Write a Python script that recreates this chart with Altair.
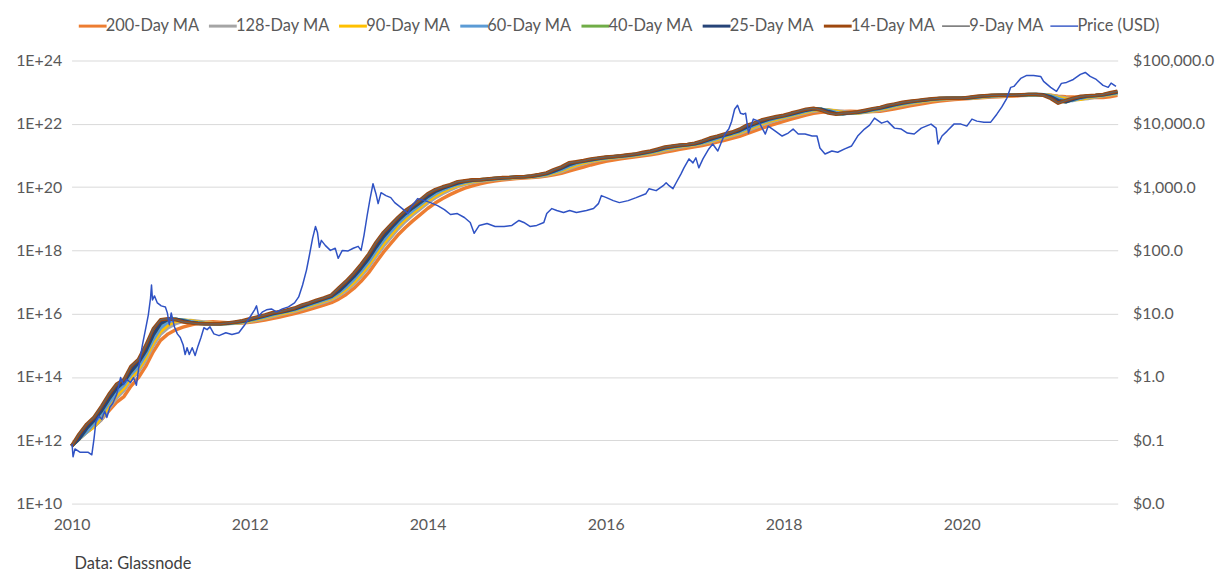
import altair as alt
import pandas as pd

# ---------------- data ----------------
# Hash rate (left axis, log10 units), one reading per month, mid-month, starting July 2010
hash_first_month = "2010-07-01"
hash_log10 = [
    11.82, 12.20, 12.51, 12.73, 13.08, 13.45, 13.77, 13.92, 14.33, 14.55,
    14.99, 15.52, 15.81, 15.84, 15.81, 15.74, 15.71, 15.68, 15.68, 15.68,
    15.68, 15.71, 15.74, 15.78, 15.84, 15.90, 15.96, 16.03, 16.06, 16.12,
    16.18, 16.28, 16.34, 16.43, 16.50, 16.59, 16.81, 17.03, 17.28, 17.56,
    17.88, 18.25, 18.57, 18.82, 19.04, 19.26, 19.42, 19.60, 19.79, 19.92,
    20.01, 20.08, 20.17, 20.20, 20.23, 20.23, 20.26, 20.28, 20.30, 20.30,
    20.33, 20.33, 20.36, 20.40, 20.45, 20.55, 20.64, 20.77, 20.80, 20.84,
    20.89, 20.92, 20.95, 20.97, 20.99, 21.02, 21.05, 21.10, 21.14, 21.21,
    21.27, 21.30, 21.33, 21.35, 21.39, 21.46, 21.55, 21.61, 21.68, 21.74,
    21.83, 21.96, 22.02, 22.12, 22.18, 22.23, 22.27, 22.34, 22.40, 22.46,
    22.49, 22.43, 22.34, 22.30, 22.34, 22.35, 22.38, 22.43, 22.48, 22.52,
    22.59, 22.63, 22.68, 22.71, 22.74, 22.77, 22.79, 22.81, 22.81, 22.81,
    22.81, 22.84, 22.87, 22.89, 22.90, 22.90, 22.90, 22.90, 22.92, 22.93,
    22.93, 22.90, 22.80, 22.65, 22.74, 22.81, 22.87, 22.89, 22.90, 22.93,
    22.98, 23.03,
]

ma_names = ["200-Day MA", "128-Day MA", "90-Day MA", "60-Day MA",
            "40-Day MA", "25-Day MA", "14-Day MA", "9-Day MA"]
ma_days = [200, 128, 90, 60, 40, 25, 14, 9]
ma_colors = ["#ED7D31", "#A5A5A5", "#FFC000", "#5B9BD5",
             "#70AD47", "#264478", "#9E480E", "#636363"]
ma_widths = [3.5, 3.5, 3.5, 3.5, 3.5, 3.5, 3.5, 1.3]

price_name = "Price (USD)"
price_color = "#2F52C4"
price_width = 1.5

# Price (right axis): date as decimal year, value in USD
price_year = [
    2010.540, 2010.551, 2010.573, 2010.629, 2010.719, 2010.763, 2010.786, 2010.808, 2010.841, 2010.875,
    2010.908, 2010.931, 2010.964, 2010.998, 2011.042, 2011.087, 2011.120, 2011.154, 2011.199, 2011.232,
    2011.265, 2011.299, 2011.332, 2011.366, 2011.399, 2011.422, 2011.433, 2011.444, 2011.466, 2011.500,
    2011.544, 2011.589, 2011.611, 2011.634, 2011.656, 2011.690, 2011.723, 2011.757, 2011.790, 2011.812,
    2011.835, 2011.857, 2011.890, 2011.924, 2011.957, 2011.991, 2012.024, 2012.058, 2012.091, 2012.136,
    2012.192, 2012.270, 2012.337, 2012.415, 2012.482, 2012.549, 2012.594, 2012.616, 2012.638, 2012.683,
    2012.728, 2012.783, 2012.839, 2012.906, 2012.973, 2013.040, 2013.085, 2013.129, 2013.174, 2013.207,
    2013.241, 2013.274, 2013.297, 2013.319, 2013.341, 2013.386, 2013.442, 2013.498, 2013.531, 2013.576,
    2013.643, 2013.699, 2013.754, 2013.788, 2013.821, 2013.855, 2013.888, 2013.922, 2013.955, 2013.978,
    2014.011, 2014.067, 2014.123, 2014.167, 2014.223, 2014.279, 2014.313, 2014.346, 2014.424, 2014.502,
    2014.569, 2014.647, 2014.725, 2014.792, 2014.870, 2014.949, 2015.015, 2015.060, 2015.116, 2015.205,
    2015.294, 2015.395, 2015.484, 2015.562, 2015.618, 2015.685, 2015.763, 2015.841, 2015.875, 2015.931,
    2015.987, 2016.065, 2016.132, 2016.210, 2016.321, 2016.400, 2016.455, 2016.489, 2016.545, 2016.623,
    2016.690, 2016.790, 2016.879, 2016.991, 2017.024, 2017.103, 2017.181, 2017.214, 2017.248, 2017.292,
    2017.326, 2017.382, 2017.415, 2017.471, 2017.516, 2017.549, 2017.583, 2017.627, 2017.694, 2017.739,
    2017.795, 2017.851, 2017.884, 2017.918, 2017.951, 2017.985, 2018.018, 2018.052, 2018.085, 2018.107,
    2018.141, 2018.196, 2018.252, 2018.330, 2018.364, 2018.442, 2018.520, 2018.587, 2018.643, 2018.699,
    2018.777, 2018.855, 2018.911, 2018.944, 2019.000, 2019.078, 2019.145, 2019.223, 2019.301, 2019.368,
    2019.446, 2019.502, 2019.558, 2019.636, 2019.703, 2019.781, 2019.859, 2019.926, 2020.004, 2020.083,
    2020.194, 2020.250, 2020.272, 2020.317, 2020.373, 2020.451, 2020.529, 2020.596, 2020.652, 2020.708,
    2020.786, 2020.864, 2020.931, 2020.987, 2021.042, 2021.087, 2021.121, 2021.199, 2021.266, 2021.344,
    2021.422, 2021.455, 2021.534, 2021.600, 2021.656, 2021.712, 2021.790, 2021.868, 2021.924, 2021.980,
    2022.047, 2022.125, 2022.181, 2022.214, 2022.270,
]
price_usd = [
    0.087, 0.055, 0.073, 0.065, 0.065, 0.059, 0.105, 0.20, 0.24, 0.216,
    0.288, 0.23, 0.333, 0.385, 0.53, 0.98, 0.76, 0.92, 0.82, 0.98,
    0.74, 1.75, 3.24, 5.57, 9.6, 17.7, 28.4, 16.5, 19.1, 14.8,
    13.3, 12.8, 10.3, 6.7, 10.3, 6.2, 4.8, 4.2, 3.2, 2.26,
    2.9, 2.26, 2.9, 2.18, 3.1, 4.2, 6.0, 5.6, 6.2, 4.8,
    4.5, 5.0, 4.7, 5.0, 6.7, 9.2, 11.5, 13.3, 9.2, 10.7,
    11.5, 11.9, 10.7, 11.9, 12.8, 14.8, 18.4, 28.4, 48.8, 83.8,
    155, 239, 192, 112, 144, 120, 100, 108, 75, 100,
    98, 108, 116, 100, 173, 356, 658, 1130, 787, 548,
    817, 733, 682, 569, 492, 425, 382, 475, 658, 612,
    569, 510, 442, 369, 382, 331, 276, 186, 248, 266,
    239, 239, 248, 297, 276, 239, 248, 276, 382, 458,
    426, 396, 426, 396, 426, 458, 548, 733, 682, 612,
    569, 612, 682, 787, 944, 879, 1053, 1172, 1053, 944,
    1172, 1622, 2014, 2790, 2415, 2893, 2014, 2790, 4009, 4802,
    3724, 5754, 7145, 8260, 11020, 16990, 19640, 14720, 14190, 14720,
    7145, 11860, 11020, 6890, 9200, 7670, 6410, 7145, 8260, 6890,
    6890, 6410, 6410, 4150, 3340, 3724, 3555, 4009, 4467, 6410,
    8260, 9530, 12280, 10250, 11020, 8550, 8260, 7145, 6890, 8550,
    9890, 8550, 4802, 6410, 7670, 9890, 9890, 9200, 11860, 11020,
    10620, 10620, 14190, 18300, 25300, 37670, 39000, 52100, 58100, 58100,
    56000, 46700, 37670, 32600, 43500, 45100, 50200, 60300, 64800, 56000,
    50200, 40500, 37670, 44000, 39000,
]

x_tick_years = [2010, 2012, 2014, 2016, 2018, 2020]
hr_ticks = [1e10, 1e12, 1e14, 1e16, 1e18, 1e20, 1e22, 1e24]
price_ticks = [0.01, 0.1, 1, 10, 100, 1000, 10000, 100000]
source_note = "Data: Glassnode"

# ---------------- tables ----------------
months = pd.date_range(hash_first_month, periods=len(hash_log10), freq="MS") + pd.Timedelta(days=14)
hash_df = pd.DataFrame({"date": months.strftime("%Y-%m-%d"),
                        "hr": [10 ** v for v in hash_log10]})


def year_to_iso(y):
    yr = int(y)
    d = pd.Timestamp(year=yr, month=1, day=1) + pd.Timedelta(days=(y - yr) * 365.25)
    return d.strftime("%Y-%m-%d")


price_df = pd.DataFrame({"date": [year_to_iso(y) for y in price_year], "usd": price_usd})

all_names = ma_names + [price_name]
all_colors = ma_colors + [price_color]
all_widths = ma_widths + [price_width]

FONT = "Lato"
GREY = "#595959"

thin_names = "[" + ", ".join("'" + n + "'" for n, w in zip(all_names, all_widths) if w < 2) + "]"
legend = alt.Legend(
    title=None,
    symbolStrokeWidth=alt.ExprRef(expr="indexof(" + thin_names + ", datum.value) >= 0 ? 1.4 : 3"),
)
color_enc = alt.Color("series:N", scale=alt.Scale(domain=all_names, range=all_colors), legend=legend)

x_enc = alt.X(
    "date:T",
    scale=alt.Scale(domain=[alt.DateTime(year=2010, month=7, date=15),
                            alt.DateTime(year=2022, month=4, date=16)]),
    axis=alt.Axis(values=[alt.DateTime(year=y, month=7, date=15) for y in x_tick_years],
                  format="%Y", grid=False, ticks=False, domain=False,
                  labelFlush=False, labelOverlap=False, labelPadding=13, title=None),
)

y_hr = alt.Y(
    "ma:Q",
    scale=alt.Scale(type="log", domain=[1e10, 1e24], nice=False),
    axis=alt.Axis(orient="left", values=hr_ticks,
                  labelExpr="'1E+' + round(log(datum.value) / LN10)",
                  grid=True, ticks=False, domain=False, labelPadding=10, title=None),
)

ma_layers = []
for name, days, width in zip(ma_names, ma_days, ma_widths):
    rows = max(1, int(round(days / 30.4 + 1)))
    layer = (
        alt.Chart()
        .transform_window(ma="mean(hr)", frame=[-(rows - 1), 0], sort=[alt.SortField("date")])
        .transform_calculate(series="'" + name + "'")
        .mark_line(strokeJoin="round", strokeCap="butt", strokeWidth=width)
        .encode(x=x_enc, y=y_hr, color=color_enc)
    )
    ma_layers.append(layer)

ma_group = alt.layer(*ma_layers, data=hash_df)

price_layer = (
    alt.Chart(price_df)
    .transform_calculate(series="'" + price_name + "'")
    .mark_line(strokeJoin="round", strokeWidth=price_width)
    .encode(
        x=x_enc,
        y=alt.Y("usd:Q",
                scale=alt.Scale(type="log", domain=[0.01, 100000], nice=False),
                axis=alt.Axis(orient="right", values=price_ticks, format="$,.1f",
                              grid=False, ticks=False, domain=False, labelPadding=15, title=None)),
        color=color_enc,
    )
)

chart = (
    alt.layer(ma_group, price_layer)
    .resolve_scale(y="independent")
    .properties(
        width=1053,
        height=446,
        autosize=alt.AutoSizeParams(type="none"),
        padding={"left": 64, "top": 51, "right": 104, "bottom": 66},
        title=alt.TitleParams(source_note, orient="bottom", anchor="start", frame="group",
                              font=FONT, fontSize=16.5, fontWeight="normal", color="#404040",
                              offset=24, dx=3),
    )
    .configure_view(stroke=None)
    .configure_axis(labelFont=FONT, labelFontSize=16, labelColor=GREY,
                    gridColor="#D9D9D9", gridWidth=1)
    .configure_legend(orient="none", legendX=13, legendY=-43, direction="horizontal",
                      columns=9, symbolType="stroke", symbolSize=784,
                      labelFont=FONT, labelFontSize=16.5, labelColor=GREY,
                      labelOffset=5, columnPadding=3, padding=0)
)

chart.save("out.html", embed_options={"renderer": "svg", "actions": False})
